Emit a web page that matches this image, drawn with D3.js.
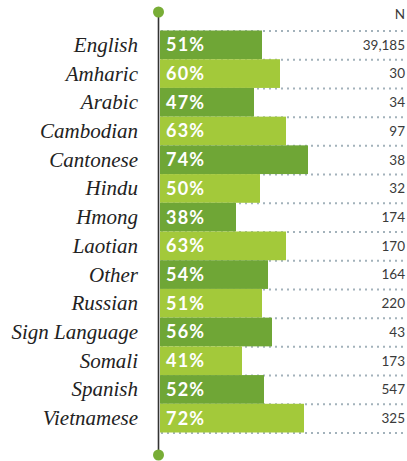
<!DOCTYPE html>
<html>
<head>
<meta charset="utf-8">
<script src="https://cdn.jsdelivr.net/npm/d3@7"></script>
<style>
  html, body { margin: 0; padding: 0; background: #fff; }
  svg { display: block; }
</style>
</head>
<body>
<script>
// Share of respondents by primary language, with sample size N
const languages = ["English", "Amharic", "Arabic", "Cambodian", "Cantonese", "Hindu", "Hmong",
  "Laotian", "Other", "Russian", "Sign Language", "Somali", "Spanish", "Vietnamese"];
const percents = [51, 60, 47, 63, 74, 50, 38, 63, 54, 51, 56, 41, 52, 72];
const counts = ["39,185", "30", "34", "97", "38", "32", "174", "170", "164", "220", "43", "173", "547", "325"];

const W = 407, H = 461;
const darkGreen = "#6fa636", lightGreen = "#a3c93a", dotGreen = "#78ad36";

const svg = d3.select("body").append("svg").attr("width", W).attr("height", H);

const axisX = 158.5;
const x = d3.scaleLinear().domain([0, 100]).range([160, 360]);
const y = d3.scaleBand().domain(languages).range([30.5, 432.5]).paddingInner(0).paddingOuter(0);

// dotted row separators
const sepYs = languages.map(d => y(d)).concat([y(languages[languages.length - 1]) + y.bandwidth()]);
svg.append("g").selectAll("line").data(sepYs).join("line")
  .attr("x1", 161).attr("x2", W)
  .attr("y1", d => d + 0.5).attr("y2", d => d + 0.5)
  .attr("stroke", "#a3b2bb").attr("stroke-width", 2)
  .attr("stroke-dasharray", "2 4");

// bars
svg.append("g").selectAll("rect").data(languages).join("rect")
  .attr("x", x(0)).attr("y", d => y(d))
  .attr("width", (d, i) => x(percents[i]) - x(0))
  .attr("height", y.bandwidth())
  .attr("fill", (d, i) => i % 2 === 0 ? darkGreen : lightGreen);

// percent labels inside bars
svg.append("g").selectAll("text").data(languages).join("text")
  .attr("x", x(0) + 6).attr("y", d => y(d) + y.bandwidth() / 2)
  .attr("dy", "0.36em")
  .attr("fill", "#fff")
  .style("font-family", "Lato, 'Open Sans', sans-serif")
  .style("font-weight", 700).style("font-size", "18px")
  .style("letter-spacing", "1.2px")
  .text((d, i) => percents[i] + "%");

// category labels
svg.append("g").selectAll("text").data(languages).join("text")
  .attr("x", 138).attr("y", d => y(d) + y.bandwidth() / 2)
  .attr("dy", "0.33em").attr("text-anchor", "end")
  .attr("fill", "#222")
  .style("font-family", "'Liberation Serif', serif")
  .style("font-style", "italic").style("font-size", "21px")
  .text(d => d);

// sample sizes
svg.append("g").selectAll("text").data(languages).join("text")
  .attr("x", 405).attr("y", d => y(d) + y.bandwidth() / 2)
  .attr("dy", "0.36em").attr("text-anchor", "end")
  .attr("fill", "#3a3a3a")
  .style("font-family", "Lato, sans-serif").style("font-size", "13.5px")
  .text((d, i) => counts[i]);

svg.append("text").attr("x", 405).attr("y", 19).attr("text-anchor", "end")
  .attr("fill", "#3a3a3a")
  .style("font-family", "Lato, sans-serif").style("font-size", "13.5px")
  .text("N");

// vertical axis with end dots
svg.append("line").attr("x1", axisX).attr("x2", axisX).attr("y1", 12).attr("y2", 455)
  .attr("stroke", "#333").attr("stroke-width", 1.6);
svg.append("g").selectAll("circle").data([12, 455]).join("circle")
  .attr("cx", axisX).attr("cy", d => d).attr("r", 5.5).attr("fill", dotGreen);
</script>
</body>
</html>
